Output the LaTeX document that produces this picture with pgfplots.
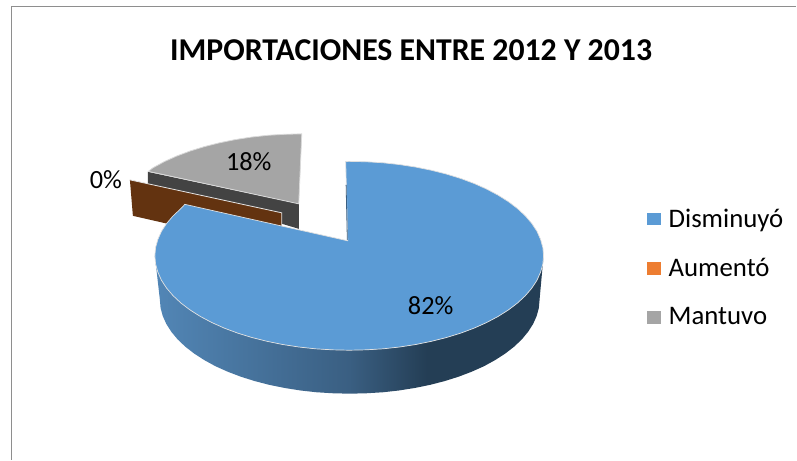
\documentclass[border=0pt]{standalone}
\usepackage{fontspec}
\setmainfont{Carlito}
\usepackage{pgfplots}
\pgfplotsset{compat=1.18}

\definecolor{sliceblue}{HTML}{5B9BD5}
\definecolor{sliceorange}{HTML}{ED7D31}
\definecolor{slicegray}{HTML}{A5A5A5}
\definecolor{graywall}{HTML}{434343}
\definecolor{brownwall}{HTML}{633310}
\definecolor{framegray}{HTML}{8E8E8E}
\definecolor{wallA}{HTML}{5286B6}
\definecolor{wallB}{HTML}{3A5F82}
\definecolor{wallC}{HTML}{243E55}

% Side wall of the large slice: lit on the left, dark from about x=430 on
\pgfdeclarehorizontalshading{bluewall}{100bp}{
  color(0bp)=(wallA); color(25bp)=(wallA); color(50bp)=(wallB);
  color(60bp)=(wallC); color(100bp)=(wallC)}

\newcommand{\labelfont}{\fontsize{26.3}{30}\selectfont}
\newcommand{\legendfont}{\fontsize{26.8}{30}\selectfont}

\begin{document}
\begin{tikzpicture}
\begin{axis}[
  scale only axis, width=797pt, height=460pt,
  xmin=0, xmax=797, ymin=0, ymax=460, y dir=reverse,
  axis lines=none, clip=false,
  legend style={at={(axis cs:644.5,207)}, anchor=north west, draw=none, fill=none,
    font=\legendfont, row sep=25.5pt, inner xsep=3pt, inner ysep=0pt,
    /tikz/every even column/.append style={column sep=0pt}},
  legend cell align=left,
  legend image code/.code={\path[#1] (0pt,-6.5pt) rectangle (13.5pt,6.5pt);},
]
% Canvas extent
\addplot[forget plot, draw=none] coordinates {(0,0) (797,460)};
% Chart frame
\addplot[forget plot, framegray, line width=1.3pt] coordinates {(11.5,460) (11.5,6.5) (797,6.5)};

% Mantuvo: wall and top
\addplot[forget plot, fill=graywall, draw=none] coordinates {
  (148,172) (299,204) (299,229) (148,184)} -- cycle;
\addplot[forget plot, fill=slicegray, draw=white!85!black, line width=0.8pt] coordinates {
  (299,204) (302,134) (285,134.4) (268.2,135.4) (251.7,137.2) (235.5,139.7) (219.8,142.9)
  (204.7,146.7) (190.4,151.1) (177,156.1) (164.5,161.7) (153,168) (148.5,171.5)} -- cycle;

% Aumentó: the zero slice shows only its wall
\addplot[forget plot, fill=brownwall, draw=none] coordinates {
  (130,180) (282,213) (282,250) (133,216)} -- cycle;
\addplot[forget plot, white!90!black, line width=0.8pt] coordinates {(130,180) (282,213) (282,228)};

% Disminuyó: curved wall between the top rim and the lower rim
\addplot[forget plot, shading=bluewall, draw=none] coordinates {
  (544,256) (543.3,264.2) (541,272.4) (537.4,280.5) (532.3,288.3) (525.8,295.9) (517.9,303.3)
  (508.8,310.2) (498.5,316.7) (487,322.8) (474.5,328.4) (461.1,333.4) (446.8,337.8) (431.7,341.6)
  (416,344.8) (399.8,347.3) (383.3,349.1) (366.5,350.1) (349.5,350.5) (332.5,350.1) (315.7,349.1)
  (299.2,347.3) (283,344.8) (267.3,341.6) (252.2,337.8) (237.9,333.4) (224.5,328.4) (212,322.8)
  (200.5,316.7) (190.2,310.2) (181.1,303.3) (173.2,295.9) (166.7,288.3) (161.6,280.5) (158,272.4)
  (155.7,264.2) (155,256)
  (160,300) (160.7,308.2) (162.9,316.3) (166.5,324.3) (171.5,332.1) (177.8,339.7) (185.5,347)
  (194.4,353.9) (204.5,360.4) (215.6,366.5) (227.9,372) (241,377) (255,381.4) (269.7,385.2)
  (285,388.3) (300.8,390.8) (317,392.6) (333.4,393.6) (350,394) (366.6,393.6) (383,392.6)
  (399.2,390.8) (415,388.3) (430.3,385.2) (445,381.4) (459,377) (472.1,372) (484.4,366.5)
  (495.5,360.4) (505.6,353.9) (514.5,347) (522.2,339.7) (528.5,332.1) (533.5,324.3) (537.1,316.3)
  (539.3,308.2) (540,300)} -- cycle;

% Disminuyó: top face
\addplot[forget plot, fill=sliceblue, draw=white!88!black, line width=0.7pt] coordinates {
  (348,241) (346,161.6) (349.5,161.5) (366.5,161.9) (383.3,162.9) (399.8,164.7) (416,167.2)
  (431.7,170.4) (446.8,174.2) (461.1,178.6) (474.5,183.6) (487,189.2) (498.5,195.3) (508.8,201.8)
  (517.9,208.7) (525.8,216.1) (532.3,223.7) (537.4,231.5) (541,239.6) (543.3,247.8) (544,256)
  (543.3,264.2) (541,272.4) (537.4,280.5) (532.3,288.3) (525.8,295.9) (517.9,303.3) (508.8,310.2)
  (498.5,316.7) (487,322.8) (474.5,328.4) (461.1,333.4) (446.8,337.8) (431.7,341.6) (416,344.8)
  (399.8,347.3) (383.3,349.1) (366.5,350.1) (349.5,350.5) (332.5,350.1) (315.7,349.1) (299.2,347.3)
  (283,344.8) (267.3,341.6) (252.2,337.8) (237.9,333.4) (224.5,328.4) (212,322.8) (200.5,316.7)
  (190.2,310.2) (181.1,303.3) (173.2,295.9) (166.7,288.3) (161.6,280.5) (158,272.4) (155.7,264.2)
  (155,256) (155.7,247.8) (158,239.6) (161.6,231.5) (166.7,223.7) (173.2,216.1) (181.1,208.7)
  (185,204.5)} -- cycle;
% Sliver of the inner wall along the cut
\addplot[forget plot, wallB, line width=0.8pt] coordinates {(346.4,185) (347.6,240)};

% Legend keys
\addlegendimage{fill=sliceblue, draw=none}
\addlegendentry{\hspace{6pt}Disminuyó}
\addlegendimage{fill=sliceorange, draw=none}
\addlegendentry{\hspace{6pt}Aumentó}
\addlegendimage{fill=slicegray, draw=none}
\addlegendentry{\hspace{6pt}Mantuvo}

% Title and slice labels
\node at (axis cs:411.5,50) {\fontsize{31.8}{36}\selectfont\bfseries IMPORTACIONES ENTRE 2012 Y 2013};
\node at (axis cs:431,306) {\labelfont 82\%};
\node at (axis cs:249,162) {\labelfont 18\%};
\node at (axis cs:106,180) {\labelfont 0\%};
\end{axis}
\end{tikzpicture}
\end{document}
